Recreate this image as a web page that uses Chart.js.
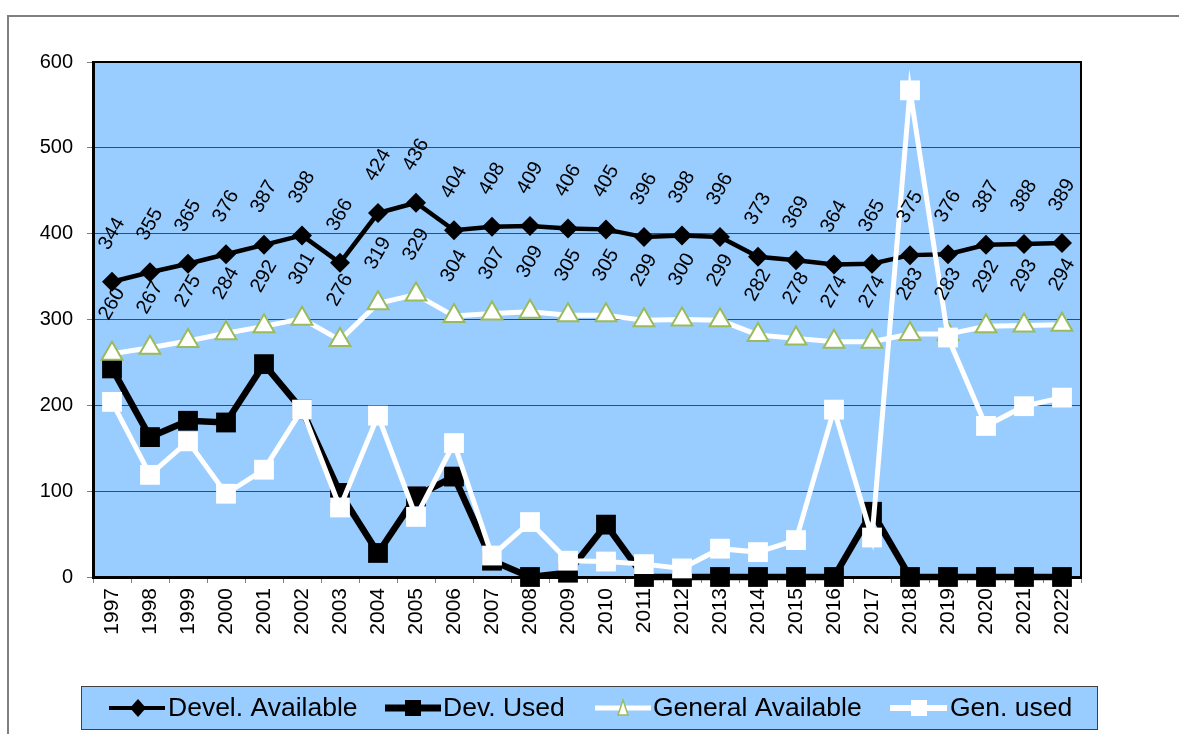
<!DOCTYPE html>
<html>
<head>
<meta charset="utf-8">
<script src="https://cdn.jsdelivr.net/npm/chart.js@4.4.1/dist/chart.umd.min.js"></script>
<style>
  html, body { margin: 0; padding: 0; background: #ffffff; overflow: hidden; }
  #wrap { position: relative; width: 1179px; height: 734px; }
  canvas { display: block; }
</style>
</head>
<body>
<div id="wrap"><canvas id="c" width="1179" height="734"></canvas></div>
<script>
const years = ['1997','1998','1999','2000','2001','2002','2003','2004','2005','2006','2007','2008','2009','2010','2011','2012','2013','2014','2015','2016','2017','2018','2019','2020','2021','2022'];
const develAvailable = [344,355,365,376,387,398,366,424,436,404,408,409,406,405,396,398,396,373,369,364,365,375,376,387,388,389];
const devUsed = [243,163,182,180,248,195,98,28,94,117,19,0,5,61,0,0,0,0,0,0,76,0,0,0,0,0];
const generalAvailable = [260,267,275,284,292,301,276,319,329,304,307,309,305,305,299,300,299,282,278,274,274,283,283,292,293,294];
const genUsed = [204,119,158,97,125,195,81,188,70,156,25,64,19,18,15,10,33,29,43,195,46,567,279,176,199,209];
const seriesNames = ['Devel. Available','Dev. Used','General Available','Gen. used'];
const yTicks = [0,100,200,300,400,500,600];

const FONT = "'Liberation Sans', Arial, sans-serif";
const PLOT_BG = '#99ccff';
const GREEN = '#9bbb59';

const framePlugin = {
  id: 'frame',
  beforeDraw(chart) {
    const ctx = chart.ctx, a = chart.chartArea;
    ctx.save();
    ctx.strokeStyle = '#7f7f7f';
    ctx.lineWidth = 2;
    ctx.strokeRect(8, 16, 2000, 2000);
    ctx.fillStyle = PLOT_BG;
    ctx.fillRect(a.left, a.top, a.right - a.left, a.bottom - a.top);
    ctx.restore();
  },
  beforeDatasetsDraw(chart) {
    const ctx = chart.ctx, a = chart.chartArea;
    ctx.save();
    ctx.strokeStyle = '#000000';
    ctx.lineWidth = 2;
    ctx.beginPath();
    ctx.moveTo(a.left, a.top);
    ctx.lineTo(a.right, a.top);
    ctx.lineTo(a.right, a.bottom);
    ctx.stroke();
    ctx.restore();
  }
};

const labelOffsets = { 0: 48, 2: 50 };
const labelPlugin = {
  id: 'valueLabels',
  afterDatasetsDraw(chart) {
    const ctx = chart.ctx;
    ctx.save();
    ctx.font = '20px ' + FONT;
    ctx.fillStyle = '#000000';
    ctx.textAlign = 'center';
    ctx.textBaseline = 'middle';
    [0, 2].forEach(di => {
      const meta = chart.getDatasetMeta(di);
      const data = chart.data.datasets[di].data;
      meta.data.forEach((pt, i) => {
        ctx.save();
        ctx.translate(pt.x, pt.y - labelOffsets[di]);
        ctx.rotate(-Math.PI / 3);
        ctx.fillText(String(data[i]), 0, 0);
        ctx.restore();
      });
    });
    ctx.restore();
  }
};

function diamond(ctx, x, y, hw, hh) {
  ctx.beginPath();
  ctx.moveTo(x, y - hh); ctx.lineTo(x + hw, y); ctx.lineTo(x, y + hh); ctx.lineTo(x - hw, y);
  ctx.closePath(); ctx.fill();
}

const legendPlugin = {
  id: 'customLegend',
  afterDraw(chart) {
    const ctx = chart.ctx;
    ctx.save();
    const bx = 81, by = 686, bw = 1016, bh = 43;
    ctx.fillStyle = PLOT_BG;
    ctx.fillRect(bx, by, bw, bh);
    ctx.strokeStyle = '#404040';
    ctx.lineWidth = 1;
    ctx.strokeRect(bx + 0.5, by + 0.5, bw, bh);
    const cy = 708;
    ctx.lineCap = 'butt';
    ctx.strokeStyle = '#000'; ctx.lineWidth = 4;
    ctx.beginPath(); ctx.moveTo(109, cy); ctx.lineTo(165, cy); ctx.stroke();
    ctx.fillStyle = '#000'; diamond(ctx, 138, cy, 8, 9);
    ctx.lineWidth = 7;
    ctx.beginPath(); ctx.moveTo(385, cy); ctx.lineTo(441, cy); ctx.stroke();
    ctx.fillRect(413 - 8, cy - 8, 16, 16);
    ctx.strokeStyle = '#fff'; ctx.lineWidth = 5;
    ctx.beginPath(); ctx.moveTo(595, cy); ctx.lineTo(651, cy); ctx.stroke();
    ctx.fillStyle = '#fff'; ctx.strokeStyle = GREEN; ctx.lineWidth = 1.5;
    ctx.beginPath(); ctx.moveTo(623, cy - 8); ctx.lineTo(628, cy + 7); ctx.lineTo(618, cy + 7); ctx.closePath();
    ctx.fill(); ctx.stroke();
    ctx.strokeStyle = '#fff'; ctx.lineWidth = 6;
    ctx.beginPath(); ctx.moveTo(890, cy); ctx.lineTo(947, cy); ctx.stroke();
    ctx.fillStyle = '#fff'; ctx.fillRect(919 - 8, cy - 8, 16, 16);
    ctx.fillStyle = '#000';
    ctx.font = '26.5px ' + FONT;
    ctx.textAlign = 'left';
    ctx.textBaseline = 'middle';
    ctx.fillText(seriesNames[0], 168, cy + 1);
    ctx.fillText(seriesNames[1], 443, cy + 1);
    ctx.fillText(seriesNames[2], 653, cy + 1);
    ctx.fillText(seriesNames[3], 950, cy + 1);
    ctx.restore();
  }
};

new Chart(document.getElementById('c'), {
  type: 'line',
  data: {
    labels: years,
    datasets: [
      {
        label: seriesNames[0], data: develAvailable, order: 3,
        borderColor: '#000', borderWidth: 4.5, backgroundColor: '#000',
        pointStyle: 'rectRot', pointRadius: 10, pointBackgroundColor: '#000', pointBorderColor: '#000', pointBorderWidth: 0,
        tension: 0, clip: false
      },
      {
        label: seriesNames[1], data: devUsed, order: 2,
        borderColor: '#000', borderWidth: 6.5, backgroundColor: '#000',
        pointStyle: 'rect', pointRadius: 14, pointBackgroundColor: '#000', pointBorderColor: '#000', pointBorderWidth: 0,
        tension: 0, clip: false
      },
      {
        label: seriesNames[2], data: generalAvailable, order: 1,
        borderColor: '#fff', borderWidth: 5, backgroundColor: '#fff',
        pointStyle: 'triangle', pointRadius: 12, pointBackgroundColor: '#fff', pointBorderColor: GREEN, pointBorderWidth: 2,
        tension: 0, clip: false
      },
      {
        label: seriesNames[3], data: genUsed, order: 0,
        borderColor: '#fff', borderWidth: 5, backgroundColor: '#fff',
        pointStyle: 'rect', pointRadius: 14, pointBackgroundColor: '#fff', pointBorderColor: '#fff', pointBorderWidth: 0,
        tension: 0, clip: false
      }
    ]
  },
  options: {
    responsive: false,
    animation: false,
    devicePixelRatio: 1,
    layout: { padding: { top: 62, left: 0, right: 98, bottom: 77 } },
    plugins: { legend: { display: false }, tooltip: { enabled: false }, title: { display: false } },
    scales: {
      x: {
        type: 'category',
        offset: true,
        afterFit(s) { s.height = 80; },
        grid: { display: true, drawOnChartArea: false, drawTicks: true, tickLength: 6, tickColor: '#808080', offset: true },
        border: { display: true, color: '#000', width: 3 },
        ticks: { color: '#000', font: { family: FONT, size: 21 }, minRotation: 90, maxRotation: 90, padding: 5, autoSkip: false }
      },
      y: {
        min: 0, max: 600,
        afterFit(s) { s.width = 93; },
        afterBuildTicks(s) { s.ticks = yTicks.map(v => ({ value: v })); },
        grid: { color: '#3b4a5c', lineWidth: 1, drawTicks: true, tickLength: 6, tickColor: '#808080' },
        border: { display: true, color: '#000', width: 3 },
        ticks: { color: '#000', font: { family: FONT, size: 20 }, padding: 14, stepSize: 100 }
      }
    }
  },
  plugins: [framePlugin, labelPlugin, legendPlugin]
});
</script>
</body>
</html>
